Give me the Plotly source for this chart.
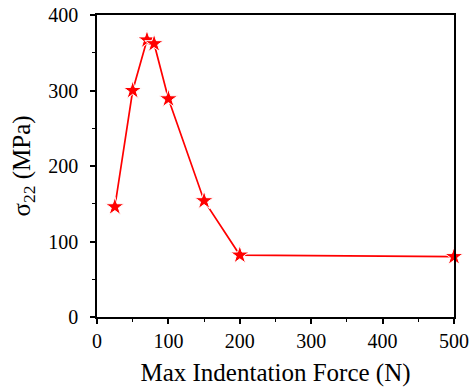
import plotly.graph_objects as go

force = [25, 50, 70, 80, 100, 150, 200, 500]
sigma22 = [146, 300, 367, 362, 289, 154, 82, 80]

x_ticks = [0, 100, 200, 300, 400, 500]
y_ticks = [0, 100, 200, 300, 400]

SERIF = "Liberation Serif, DejaVu Serif, serif"

fig = go.Figure()
fig.add_trace(go.Scatter(
    x=force, y=sigma22, mode="lines+markers",
    line=dict(color="#ff0000", width=1.7),
    marker=dict(symbol="star", size=14, color="#ff0000",
                line=dict(color="white", width=1)),
    cliponaxis=False, showlegend=False,
))

axis_common = dict(
    showgrid=False, zeroline=False, showline=True, linecolor="black",
    linewidth=1.5, mirror=True, ticks="outside", ticklen=5, tickwidth=1.5,
    tickcolor="black", automargin=False,
    tickfont=dict(family=SERIF, size=20, color="black"),
    minor=dict(ticks="outside", ticklen=3, tickwidth=1.2, tickcolor="black", dtick=50),
)

fig.update_xaxes(range=[0, 500], tickvals=x_ticks,
                 title=dict(text="Max Indentation Force (N)", standoff=13,
                            font=dict(family=SERIF, size=25, color="black")),
                 **axis_common)
fig.update_yaxes(range=[0, 400], tickvals=y_ticks, ticklabelstandoff=8,
                 title=dict(text="σ<sub>22</sub> (MPa)", standoff=11,
                            font=dict(family=SERIF, size=25, color="black")),
                 **axis_common)

fig.update_layout(
    width=473, height=391,
    margin=dict(l=97, r=19, t=15, b=74),
    plot_bgcolor="white", paper_bgcolor="white",
    font=dict(family=SERIF, color="black"),
)

fig.write_html("out.html", config={"displayModeBar": False},
               post_script="document.body.style.margin='0';document.body.style.padding='0';")
